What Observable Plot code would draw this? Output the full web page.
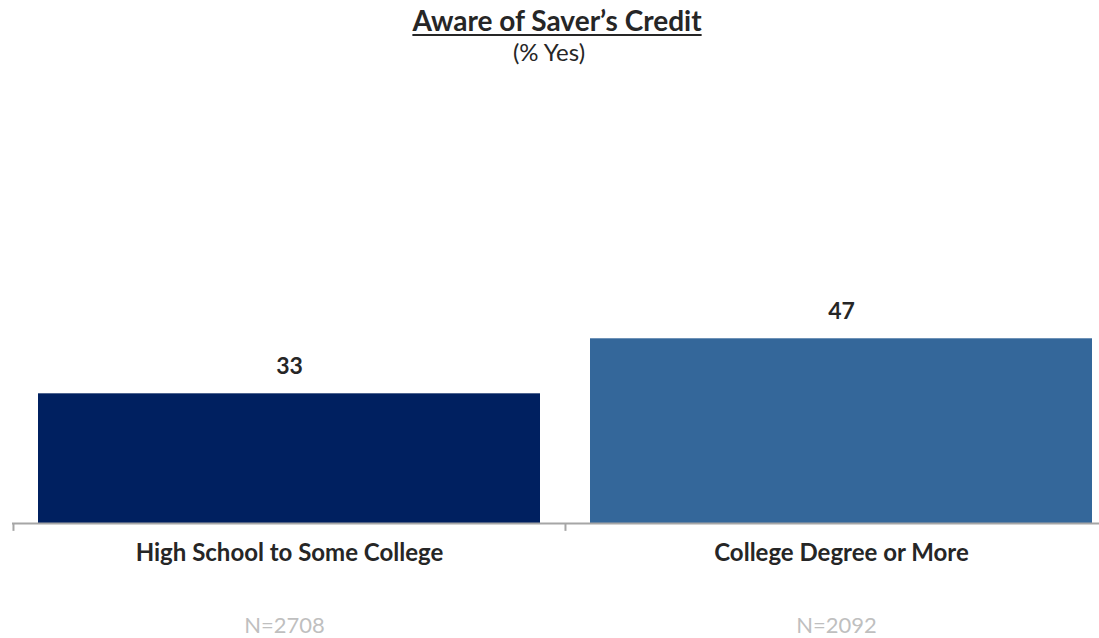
<!DOCTYPE html>
<html>
<head>
<meta charset="utf-8">
<script src="https://cdn.jsdelivr.net/npm/d3@7"></script>
<script src="https://cdn.jsdelivr.net/npm/@observablehq/plot@0.6"></script>
<style>
  body { margin: 0; overflow: hidden; background: #fff; font-family: Lato, "Open Sans", sans-serif; }
  #wrap { position: relative; width: 1099px; height: 638px; }
  #title { position: absolute; left: 0; width: 1114px; top: 4px; text-align: center; font-weight: bold; font-size: 28px; line-height: 32px; color: #262626; text-decoration: underline; text-decoration-thickness: 2px; text-underline-offset: 3px; }
  #subtitle { position: absolute; left: 0; width: 1098px; top: 37px; text-align: center; font-size: 24px; line-height: 29px; color: #262626; }
  #chart { position: absolute; left: 0; top: 0; }
</style>
</head>
<body>
<div id="wrap">
  <div id="chart"></div>
  <div id="title">Aware of Saver’s Credit</div>
  <div id="subtitle">(% Yes)</div>
</div>
<script>
const categories = ["High School to Some College", "College Degree or More"];
const values = [33, 47];
const sampleLabels = ["N=2708", "N=2092"];
const barColors = ["#002060", "#34679A"];

const data = categories.map((c, i) => ({cat: c, value: values[i], n: sampleLabels[i], color: barColors[i]}));

const xRange = [12, 1118];
const xScale = d3.scaleBand().domain(categories).range(xRange).paddingInner(0.0906).paddingOuter(0.047);
const step = xScale.step();

const chart = Plot.plot({
  width: 1099,
  height: 638,
  marginTop: 130,
  marginBottom: 115,
  marginLeft: 12,
  marginRight: 0,
  style: {fontFamily: "Lato, 'Open Sans', sans-serif", background: "transparent", overflow: "hidden"},
  x: {domain: categories, range: xRange, paddingInner: 0.0906, paddingOuter: 0.047, axis: null},
  y: {domain: [0, 100], axis: null},
  color: {type: "identity"},
  marks: [
    Plot.barY(data, {x: "cat", y: "value", fill: "color"}),
    Plot.ruleY([0], {stroke: "#a6a6a6", strokeWidth: 2}),
    Plot.ruleX(data, {x: "cat", dx: -step / 2, y1: 0, y2: -2, stroke: "#a6a6a6", strokeWidth: 2}),
    Plot.text(data, {x: "cat", y: "value", text: d => String(d.value), dy: -27, fontSize: 23, fontWeight: "bold", fill: "#262626"}),
    Plot.text(data, {x: "cat", y: 0, text: "cat", dy: 30, fontSize: 24, fontWeight: "bold", fill: "#262626"}),
    Plot.text(data, {x: "cat", y: 0, text: "n", dy: 102, fontSize: 22, fill: "#bfbfbf", dx: -5})
  ]
});
document.getElementById("chart").appendChild(chart);
</script>
</body>
</html>
